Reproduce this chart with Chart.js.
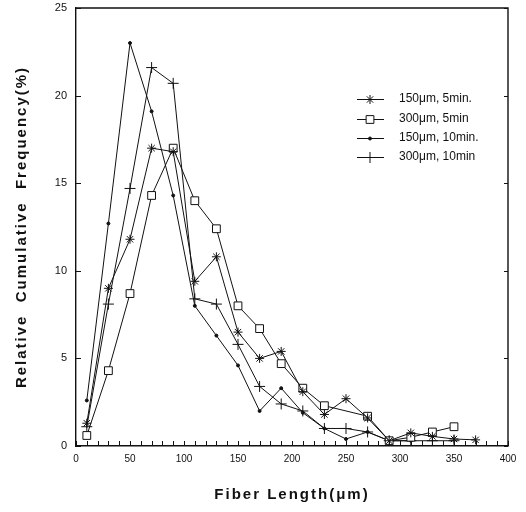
<!DOCTYPE html>
<html>
<head>
<meta charset="utf-8">
<script src="https://cdn.jsdelivr.net/npm/chart.js@4/dist/chart.umd.min.js"></script>
<style>
  html, body { margin: 0; padding: 0; background: #fff; }
  canvas { display: block; }
</style>
</head>
<body>
<canvas id="c" width="526" height="512"></canvas>
<script>
// ---- data ----
const fiberLengths = [10, 30, 50, 70, 90, 110, 130, 150, 170, 190, 210, 230, 250, 270, 290, 310, 330, 350, 370];
const s150um5min  = [1.3, 9.0, 11.8, 17.0, 16.8, 9.4, 10.8, 6.5, 5.0, 5.4, 3.1, 1.8, 2.7, 1.6, 0.3, 0.75, 0.55, 0.4, 0.35];
const s300um5min  = [0.6, 4.3, 8.7, 14.3, 17.0, 14.0, 12.4, 8.0, 6.7, 4.7, 3.3, 2.3, null, 1.7, 0.3, 0.5, 0.8, 1.1, null];
const s150um10min = [2.6, 12.7, 23.0, 19.1, 14.3, 8.0, 6.3, 4.6, 2.0, 3.3, 1.9, 1.0, 0.4, 0.8, 0.3, 0.3, null, null, null];
const s300um10min = [1.1, 8.1, 14.7, 21.6, 20.7, 8.4, 8.1, 5.8, 3.4, 2.4, 2.0, 1.0, 1.0, 0.8, 0.3, 0.3, 0.3, 0.3, null];
const seriesLabels = ['150μm, 5min.', '300μm, 5min', '150μm, 10min.', '300μm, 10min'];
const yTicks = [0, 5, 10, 15, 20, 25];
const xTickLabels = [0, 50, 100, 150, 200, 250, 300, 350, 400];

function pts(arr) {
  return fiberLengths.map((x, i) => ({ x: x, y: arr[i] }));
}

// wider letter spacing for the axis titles, as in the reference
const origDrawTitle = Chart.Scale.prototype.drawTitle;
Chart.Scale.prototype.drawTitle = function () {
  const c = this.ctx;
  const prev = c.letterSpacing;
  c.letterSpacing = '2px';
  origDrawTitle.apply(this, arguments);
  c.letterSpacing = prev || '0px';
};

const INK = '#111';
const base = { borderColor: INK, borderWidth: 1, pointBorderColor: INK, pointBorderWidth: 1, tension: 0, spanGaps: true, fill: false };

const datasets = [
  Object.assign({}, base, { label: seriesLabels[0], data: pts(s150um5min),  pointStyle: 'star',   pointRadius: 4.5, pointBackgroundColor: INK }),
  Object.assign({}, base, { label: seriesLabels[1], data: pts(s300um5min),  pointStyle: 'rect',   pointRadius: 5.5, pointBackgroundColor: '#fff' }),
  Object.assign({}, base, { label: seriesLabels[2], data: pts(s150um10min), pointStyle: 'circle', pointRadius: 1.5, pointBackgroundColor: INK }),
  Object.assign({}, base, { label: seriesLabels[3], data: pts(s300um10min), pointStyle: 'cross',  pointRadius: 5.5, pointBackgroundColor: INK })
];

const framePlugin = {
  id: 'frame',
  afterDraw(chart) {
    const ctx = chart.ctx;
    const a = chart.chartArea;
    const xs = chart.scales.x, ys = chart.scales.y;
    ctx.save();
    ctx.strokeStyle = INK;
    ctx.lineWidth = 1.4;
    ctx.beginPath();
    ctx.moveTo(a.left, a.top); ctx.lineTo(a.right, a.top); ctx.lineTo(a.right, a.bottom);
    ctx.stroke();
    ctx.lineWidth = 1;
    // inward ticks on x every 10
    ctx.beginPath();
    for (let v = 0; v <= 400; v += 10) {
      const px = Math.round(xs.getPixelForValue(v)) + 0.5;
      ctx.moveTo(px, a.bottom); ctx.lineTo(px, a.bottom - 5);
    }
    // inward ticks on y
    yTicks.forEach(v => {
      const py = Math.round(ys.getPixelForValue(v)) + 0.5;
      ctx.moveTo(a.left, py); ctx.lineTo(a.left + 5, py);
      ctx.moveTo(a.right, py); ctx.lineTo(a.right - 4, py);
    });
    ctx.stroke();

    // legend
    const rowY = [99, 119, 138, 157];
    const mx = 370, lx0 = 357, lx1 = 384, tx = 399;
    ctx.font = '12px "Liberation Sans", Arial, sans-serif';
    ctx.textBaseline = 'middle';
    ctx.textAlign = 'left';
    chart.data.datasets.forEach((ds, i) => {
      const y = rowY[i];
      ctx.beginPath();
      ctx.strokeStyle = INK; ctx.lineWidth = 1;
      ctx.moveTo(lx0, y + 0.5); ctx.lineTo(lx1, y + 0.5);
      ctx.stroke();
      ctx.fillStyle = ds.pointBackgroundColor;
      ctx.strokeStyle = INK;
      Chart.helpers.drawPoint(ctx, {
        pointStyle: ds.pointStyle, radius: ds.pointRadius, borderWidth: 1, rotation: 0
      }, mx, y + 0.5);
      ctx.fillStyle = INK;
      ctx.fillText(ds.label, tx, y);
    });
    ctx.restore();
  }
};

new Chart(document.getElementById('c'), {
  type: 'line',
  data: { datasets: datasets },
  options: {
    responsive: false,
    animation: false,
    devicePixelRatio: 1,
    layout: { padding: { top: 8, right: 18, left: 0, bottom: 0 } },
    plugins: { legend: { display: false }, tooltip: { enabled: false } },
    scales: {
      x: {
        type: 'linear', min: 0, max: 400,
        afterBuildTicks(s) { s.ticks = xTickLabels.map(v => ({ value: v })); },
        afterFit(s) { s.height = 66; s.paddingLeft = 0; s.paddingRight = 0; },
        ticks: { color: INK, padding: 7, maxRotation: 0, autoSkip: false, font: { family: '"Liberation Sans", Arial, sans-serif', size: 10 } },
        grid: { drawOnChartArea: false, drawTicks: false },
        border: { display: true, color: INK, width: 1.4 },
        title: { display: true, text: 'Fiber Length(μm)', color: INK, padding: { top: 0, bottom: 8 },
                 font: { family: '"Liberation Sans", Arial, sans-serif', size: 15, weight: 'bold' } }
      },
      y: {
        type: 'linear', min: 0, max: 25,
        afterBuildTicks(s) { s.ticks = yTicks.map(v => ({ value: v })); },
        afterFit(s) { s.width = 76; s.paddingTop = 0; s.paddingBottom = 0; },
        ticks: { color: INK, padding: 9, font: { family: '"Liberation Sans", Arial, sans-serif', size: 11 } },
        grid: { drawOnChartArea: false, drawTicks: false },
        border: { display: true, color: INK, width: 1.4 },
        title: { display: true, text: 'Relative  Cumulative  Frequency(%)', color: INK, padding: { top: 13, bottom: 0 },
                 font: { family: '"Liberation Sans", Arial, sans-serif', size: 15, weight: 'bold' } }
      }
    }
  },
  plugins: [framePlugin]
});
</script>
</body>
</html>
